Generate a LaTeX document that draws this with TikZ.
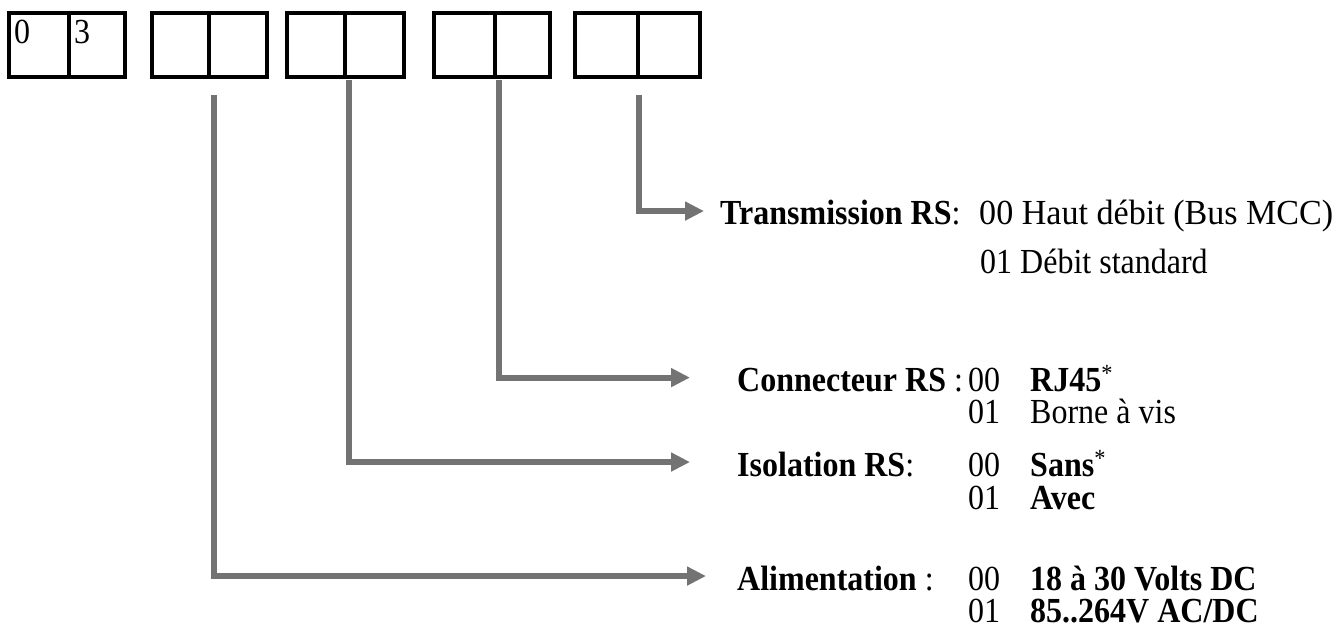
\documentclass[tikz,border=0pt]{standalone}
\usepackage{fontspec}
\usepackage{graphicx}
\setmainfont{Liberation Serif}
\usetikzlibrary{arrows.meta,calc}
\newcommand{\sy}[1]{\scalebox{1}[1.1]{#1}}
\begin{document}
\begin{tikzpicture}[x=1pt,y=-1pt,
  cell/.style={draw=black,line width=4.5pt,minimum height=64pt,inner sep=0pt},
  conn/.style={draw=gray!90!black,line width=6pt,-{Triangle[length=19pt,width=18pt]}},
  txt/.style={anchor=base west,inner sep=0pt,font=\fontsize{32}{32}\selectfont}]
\useasboundingbox (0,0) rectangle (1338,637);
% boxes
\node[cell,minimum width=60pt] (c1a) at (39,45) {};
\node[cell,minimum width=56pt] (c1b) at (97,45) {};
\node[cell,minimum width=57pt] (c2a) at (180.5,45) {};
\node[cell,minimum width=58pt] (c2b) at (238,45) {};
\node[cell,minimum width=58pt] (c3a) at (316,45) {};
\node[cell,minimum width=59pt] (c3b) at (374.5,45) {};
\node[cell,minimum width=61pt] (c4a) at (464.5,45) {};
\node[cell,minimum width=55pt] (c4b) at (522.5,45) {};
\node[cell,minimum width=63pt] (c5a) at (606.5,45) {};
\node[cell,minimum width=62pt] (c5b) at (669,45) {};
\node[txt] (d0) at (14,43) {\sy{0}};
\node[txt] (d3) at (74,43) {\sy{3}};
% labels
\node[txt] (trans) at (720,224) {\sy{\textbf{Transmission RS}:}};
\node[txt] (t0) at (979,224) {\scalebox{1.065}[1.1]{00 Haut d\'ebit (Bus MCC)}};
\node[txt] (t1) at (980,273) {\sy{01 Débit standard}};
\node[txt] (conn) at (737,391) {\sy{\textbf{Connecteur RS} :}};
\node[txt] (k0) at (968,391) {\sy{00}};
\node[txt] (k0v) at (1030,391) {\sy{\textbf{RJ45}\textsuperscript{*}}};
\node[txt] (k1) at (968,423) {\sy{01}};
\node[txt] (k1v) at (1030,423) {\sy{Borne à vis}};
\node[txt] (iso) at (737,476) {\sy{\textbf{Isolation RS}:}};
\node[txt] (i0) at (968,476) {\sy{00}};
\node[txt] (i0v) at (1030,476) {\sy{\textbf{Sans}\textsuperscript{*}}};
\node[txt] (i1) at (968,509) {\sy{01}};
\node[txt] (i1v) at (1030,509) {\sy{\textbf{Avec}}};
\node[txt] (alim) at (737,590) {\sy{\textbf{Alimentation} :}};
\node[txt] (a0) at (968,590) {\sy{00}};
\node[txt] (a0v) at (1030,590) {\sy{\textbf{18 à 30 Volts DC}}};
\node[txt] (a1) at (968,622) {\sy{01}};
\node[txt] (a1v) at (1030,622) {\sy{\textbf{85..264V AC/DC}}};
% connectors
\draw[conn] ([xshift=-1pt,yshift=-16pt]c5a.south east) |- ([xshift=-16pt,yshift=1pt]trans.west);
\draw[conn] ([xshift=2pt,yshift=-1pt]c4a.south east) |- ([xshift=-47pt,yshift=2pt]conn.west);
\draw[conn] ([xshift=2pt,yshift=-1pt]c3a.south east) |- ([xshift=-47pt,yshift=2pt]iso.west);
\draw[conn] ([xshift=3pt,yshift=-16pt]c2a.south east) |- ([xshift=-31pt,yshift=2pt]alim.west);
\end{tikzpicture}
\end{document}
